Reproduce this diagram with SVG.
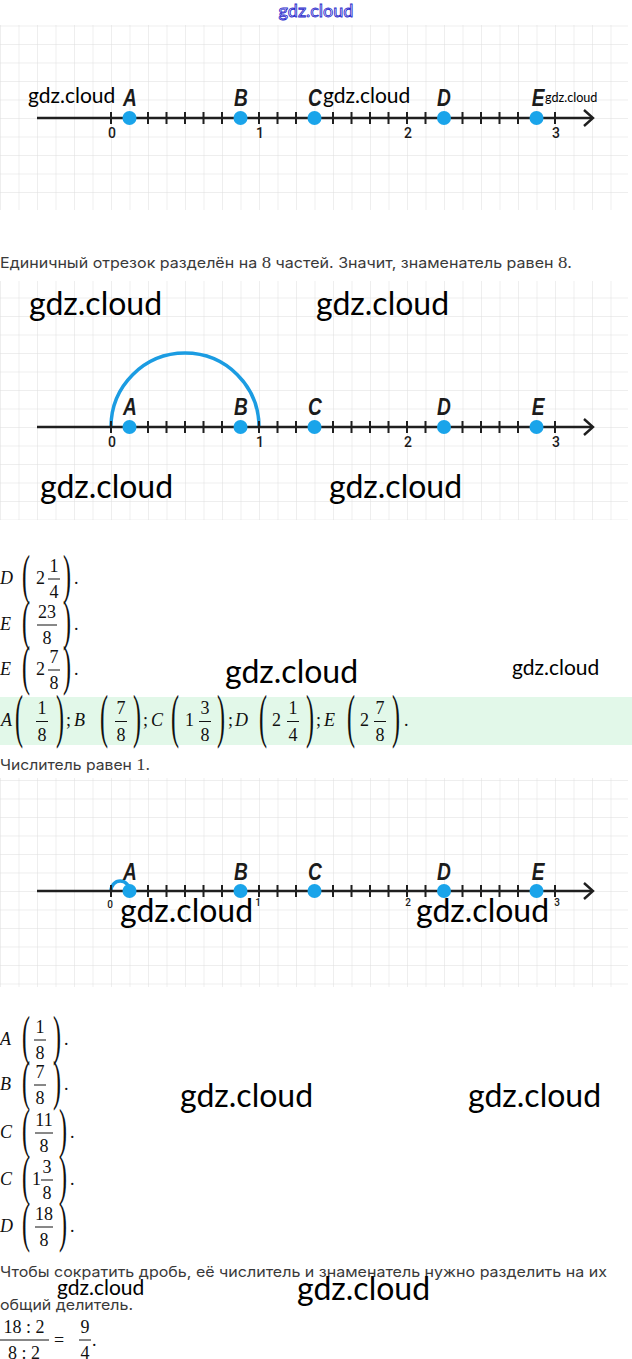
<svg xmlns="http://www.w3.org/2000/svg" xmlns:xlink="http://www.w3.org/1999/xlink" width="632" height="1359" viewBox="0 0 632 1359">
<style>
.wm{font-family:Lato,"Open Sans",sans-serif;fill:#000}
.wmtop{font-family:Lato,"DejaVu Sans",sans-serif;font-size:18px;fill:#fff;stroke:#2a2acc;stroke-width:0.9}
.lt{font-family:"Liberation Sans",Arial,sans-serif;font-weight:bold;font-style:italic;font-size:24.5px;fill:#1b1b1b;text-anchor:middle}
.nm{font-family:Roboto,"Liberation Sans",sans-serif;font-weight:500;font-size:14px;fill:#1b1b1b;text-anchor:middle}
.nms{font-family:Roboto,"Liberation Sans",sans-serif;font-weight:500;font-size:10px;fill:#1b1b1b;text-anchor:middle}
.tx{font-family:Inter,"Noto Sans",sans-serif;font-size:14.5px;fill:#3a3a3a}
.ser{font-family:"Liberation Serif",serif;font-size:17px}
.m{font-family:"Liberation Serif","DejaVu Serif",serif;font-size:18px;fill:#111}
.mc{text-anchor:middle}
.mi{font-style:italic}
.p{font-family:"Liberation Serif","DejaVu Serif",serif;font-size:24px;fill:#111}
.bar{stroke:#111;stroke-width:1}
.ax{stroke:#1f1f1f;stroke-width:2.4;fill:none}
.tk{stroke:#1f1f1f;stroke-width:2;fill:none}
.dot{fill:#1aa4ea}
.arc{stroke:#1b9ce2;stroke-width:3.5;fill:none}
</style>
<defs>
<pattern id="grid" width="18.5" height="18.5" patternUnits="userSpaceOnUse">
<path d="M18.5 0H0V18.5" fill="none" stroke="#dedede" stroke-width="1"/>
</pattern>
<g id="axis">
<path class="ax" d="M37 0H592"/>
<path class="ax" d="M584 -8L593 0L584 8"/>
<path class="tk" d="M111 -6v12M129.5 -6v12M148 -6v12M166.5 -6v12M185 -6v12M203.5 -6v12M222 -6v12M240.5 -6v12M259 -6v12M277.5 -6v12M296 -6v12M314.5 -6v12M333 -6v12M351.5 -6v12M370 -6v12M388.5 -6v12M407 -6v12M425.5 -6v12M444 -6v12M462.5 -6v12M481 -6v12M499.5 -6v12M518 -6v12M536.5 -6v12M555 -6v12"/>
<circle class="dot" cx="129.5" cy="0" r="7"/>
<circle class="dot" cx="240.5" cy="0" r="7"/>
<circle class="dot" cx="314.5" cy="0" r="7"/>
<circle class="dot" cx="444" cy="0" r="7"/>
<circle class="dot" cx="536.5" cy="0" r="7"/>
</g>
</defs>
<rect width="632" height="1359" fill="#fff"/>

<text class="wmtop" x="316" y="17" text-anchor="middle">gdz.cloud</text>

<!-- number line 1 -->
<g id="line1" transform="translate(0,118)">
<rect x="0" y="-93" width="628" height="185" fill="url(#grid)"/>
<use xlink:href="#axis"/>
<text class="lt" transform="translate(130,-12) scale(0.78,1)">A</text>
<text class="lt" transform="translate(241,-12) scale(0.78,1)">B</text>
<text class="lt" transform="translate(315,-12) scale(0.78,1)">C</text>
<text class="lt" transform="translate(444,-12) scale(0.78,1)">D</text>
<text class="lt" transform="translate(538,-12) scale(0.78,1)">E</text>
<text class="nm" x="112" y="20">0</text>
<text class="nm" x="260" y="20">1</text>
<text class="nm" x="408" y="20">2</text>
<text class="nm" x="556" y="20">3</text>
<text class="wm" x="28" y="-15" font-size="21">gdz.cloud</text>
<text class="wm" x="323" y="-15" font-size="21">gdz.cloud</text>
<text class="wm" x="545" y="-16" font-size="12.6">gdz.cloud</text>
</g>

<text class="tx" x="0" y="268" textLength="572" lengthAdjust="spacingAndGlyphs">Единичный отрезок разделён на <tspan class="ser">8</tspan> частей. Значит, знаменатель равен <tspan class="ser">8</tspan>.</text>

<!-- number line 2 -->
<g id="line2" transform="translate(0,427)">
<rect x="0" y="-146" width="628" height="239" fill="url(#grid)"/>
<path class="arc" d="M111 0A74 74 0 0 1 259 0"/>
<use xlink:href="#axis"/>
<text class="lt" transform="translate(130,-12) scale(0.78,1)">A</text>
<text class="lt" transform="translate(241,-12) scale(0.78,1)">B</text>
<text class="lt" transform="translate(315,-12) scale(0.78,1)">C</text>
<text class="lt" transform="translate(444,-12) scale(0.78,1)">D</text>
<text class="lt" transform="translate(538,-12) scale(0.78,1)">E</text>
<text class="nm" x="112" y="20">0</text>
<text class="nm" x="260" y="20">1</text>
<text class="nm" x="408" y="20">2</text>
<text class="nm" x="556" y="20">3</text>
<text class="wm" x="29" y="-112" font-size="32">gdz.cloud</text>
<text class="wm" x="316" y="-112" font-size="32">gdz.cloud</text>
<text class="wm" x="40" y="71" font-size="32">gdz.cloud</text>
<text class="wm" x="329" y="71" font-size="32">gdz.cloud</text>
</g>

<!-- list 1 -->
<g id="list1">
<text class="m mi" x="0" y="584">D</text>
<text class="p" transform="translate(22,592.8) scale(1,2.3)">(</text>
<text class="m" x="36" y="584">2</text>
<text class="m mc" x="54" y="571.5">1</text><line class="bar" x1="48" y1="579" x2="60" y2="579"/><text class="m mc" x="54" y="598">4</text>
<text class="p" transform="translate(63,592.8) scale(1,2.3)">)</text>
<text class="m" x="74" y="584">.</text>

<text class="m mi" x="0" y="630">E</text>
<text class="p" transform="translate(22,638.8) scale(1,2.3)">(</text>
<text class="m mc" x="47" y="617.5">23</text><line class="bar" x1="37" y1="625" x2="57" y2="625"/><text class="m mc" x="47" y="644">8</text>
<text class="p" transform="translate(63,638.8) scale(1,2.3)">)</text>
<text class="m" x="74" y="630">.</text>

<text class="m mi" x="0" y="675">E</text>
<text class="p" transform="translate(22,683.8) scale(1,2.3)">(</text>
<text class="m" x="36" y="675">2</text>
<text class="m mc" x="54" y="662.5">7</text><line class="bar" x1="48" y1="670" x2="60" y2="670"/><text class="m mc" x="54" y="689">8</text>
<text class="p" transform="translate(63,683.8) scale(1,2.3)">)</text>
<text class="m" x="74" y="675">.</text>
</g>
<text class="wm" x="225" y="683" font-size="32">gdz.cloud</text>
<text class="wm" x="512" y="675" font-size="21">gdz.cloud</text>

<!-- answer band -->
<g id="answer">
<rect x="0" y="697" width="632" height="48" fill="#e2f8e9"/>
<text class="m mi" x="1" y="726">A</text>
<text class="p" transform="translate(15,735.7) scale(1,2.45)">(</text>
<text class="m mc" x="42" y="714">1</text><line class="bar" x1="36" y1="721.5" x2="48" y2="721.5"/><text class="m mc" x="42" y="741">8</text>
<text class="p" transform="translate(56,735.7) scale(1,2.45)">)</text>
<text class="m" x="66" y="726">;</text>
<text class="m mi" x="74" y="726">B</text>
<text class="p" transform="translate(100,735.7) scale(1,2.45)">(</text>
<text class="m mc" x="121" y="714">7</text><line class="bar" x1="115" y1="721.5" x2="127" y2="721.5"/><text class="m mc" x="121" y="741">8</text>
<text class="p" transform="translate(133,735.7) scale(1,2.45)">)</text>
<text class="m" x="143" y="726">;</text>
<text class="m mi" x="151" y="726">C</text>
<text class="p" transform="translate(171,735.7) scale(1,2.45)">(</text>
<text class="m" x="185" y="726">1</text>
<text class="m mc" x="205" y="714">3</text><line class="bar" x1="199" y1="721.5" x2="211" y2="721.5"/><text class="m mc" x="205" y="741">8</text>
<text class="p" transform="translate(217,735.7) scale(1,2.45)">)</text>
<text class="m" x="228" y="726">;</text>
<text class="m mi" x="235" y="726">D</text>
<text class="p" transform="translate(259,735.7) scale(1,2.45)">(</text>
<text class="m" x="272" y="726">2</text>
<text class="m mc" x="293" y="714">1</text><line class="bar" x1="287" y1="721.5" x2="299" y2="721.5"/><text class="m mc" x="293" y="741">4</text>
<text class="p" transform="translate(306,735.7) scale(1,2.45)">)</text>
<text class="m" x="316" y="726">;</text>
<text class="m mi" x="324" y="726">E</text>
<text class="p" transform="translate(347,735.7) scale(1,2.45)">(</text>
<text class="m" x="360" y="726">2</text>
<text class="m mc" x="380" y="714">7</text><line class="bar" x1="374" y1="721.5" x2="386" y2="721.5"/><text class="m mc" x="380" y="741">8</text>
<text class="p" transform="translate(392,735.7) scale(1,2.45)">)</text>
<text class="m" x="404" y="726">.</text>
</g>

<text class="tx" x="0" y="770" textLength="150" lengthAdjust="spacingAndGlyphs">Числитель равен <tspan class="ser">1</tspan>.</text>

<!-- number line 3 -->
<g id="line3" transform="translate(0,891)">
<rect x="0" y="-113" width="628" height="209" fill="url(#grid)"/>
<path class="arc" d="M111 0A9.25 10 0 0 1 129.5 0" stroke-width="3"/>
<use xlink:href="#axis"/>
<text class="lt" transform="translate(130,-11) scale(0.78,1)">A</text>
<text class="lt" transform="translate(241,-11) scale(0.78,1)">B</text>
<text class="lt" transform="translate(315,-11) scale(0.78,1)">C</text>
<text class="lt" transform="translate(444,-11) scale(0.78,1)">D</text>
<text class="lt" transform="translate(538,-11) scale(0.78,1)">E</text>
<text class="nms" x="110" y="17">0</text>
<text class="nms" x="258" y="15">1</text>
<text class="nms" x="408" y="15">2</text>
<text class="nms" x="557" y="15">3</text>
<text class="wm" x="120" y="31" font-size="32">gdz.cloud</text>
<text class="wm" x="416" y="31" font-size="32">gdz.cloud</text>
</g>

<!-- list 2 -->
<g id="list2">
<text class="m mi" x="0" y="1045">A</text>
<text class="p" transform="translate(22,1053.8) scale(1,2.3)">(</text>
<text class="m mc" x="40" y="1032.5">1</text><line class="bar" x1="34" y1="1040" x2="46" y2="1040"/><text class="m mc" x="40" y="1059">8</text>
<text class="p" transform="translate(53,1053.8) scale(1,2.3)">)</text>
<text class="m" x="64" y="1045">.</text>

<text class="m mi" x="0" y="1090">B</text>
<text class="p" transform="translate(22,1098.8) scale(1,2.3)">(</text>
<text class="m mc" x="40" y="1077.5">7</text><line class="bar" x1="34" y1="1085" x2="46" y2="1085"/><text class="m mc" x="40" y="1104">8</text>
<text class="p" transform="translate(53,1098.8) scale(1,2.3)">)</text>
<text class="m" x="64" y="1090">.</text>

<text class="m mi" x="0" y="1138">C</text>
<text class="p" transform="translate(22,1146.8) scale(1,2.3)">(</text>
<text class="m mc" x="44" y="1125.5">11</text><line class="bar" x1="35" y1="1133" x2="53" y2="1133"/><text class="m mc" x="44" y="1152">8</text>
<text class="p" transform="translate(59,1146.8) scale(1,2.3)">)</text>
<text class="m" x="70" y="1138">.</text>

<text class="m mi" x="0" y="1185">C</text>
<text class="p" transform="translate(22,1193.8) scale(1,2.3)">(</text>
<text class="m" x="32" y="1185">1</text>
<text class="m mc" x="47" y="1172.5">3</text><line class="bar" x1="41" y1="1180" x2="53" y2="1180"/><text class="m mc" x="47" y="1199">8</text>
<text class="p" transform="translate(59,1193.8) scale(1,2.3)">)</text>
<text class="m" x="70" y="1185">.</text>

<text class="m mi" x="0" y="1232">D</text>
<text class="p" transform="translate(22,1240.8) scale(1,2.3)">(</text>
<text class="m mc" x="44" y="1219.5">18</text><line class="bar" x1="35" y1="1227" x2="53" y2="1227"/><text class="m mc" x="44" y="1246">8</text>
<text class="p" transform="translate(59,1240.8) scale(1,2.3)">)</text>
<text class="m" x="70" y="1232">.</text>
</g>
<text class="wm" x="180" y="1107" font-size="32">gdz.cloud</text>
<text class="wm" x="468" y="1107" font-size="32">gdz.cloud</text>

<text class="tx" x="0" y="1277" textLength="607" lengthAdjust="spacingAndGlyphs">Чтобы сократить дробь, её числитель и знаменатель нужно разделить на их</text>
<text class="tx" x="0" y="1310" textLength="133" lengthAdjust="spacingAndGlyphs">общий делитель.</text>
<text class="wm" x="57" y="1295" font-size="21">gdz.cloud</text>
<text class="wm" x="297" y="1300" font-size="32">gdz.cloud</text>

<!-- reduction -->
<g id="reduce">
<text class="m mc" x="24" y="1332.5">18 : 2</text>
<line class="bar" x1="0" y1="1340" x2="49" y2="1340"/>
<text class="m mc" x="24" y="1359">8 : 2</text>
<text class="m" x="54" y="1346">=</text>
<text class="m mc" x="85" y="1332.5">9</text>
<line class="bar" x1="79" y1="1340" x2="91" y2="1340"/>
<text class="m mc" x="85" y="1359">4</text>
<text class="m" x="92" y="1346">.</text>
</g>
</svg>
